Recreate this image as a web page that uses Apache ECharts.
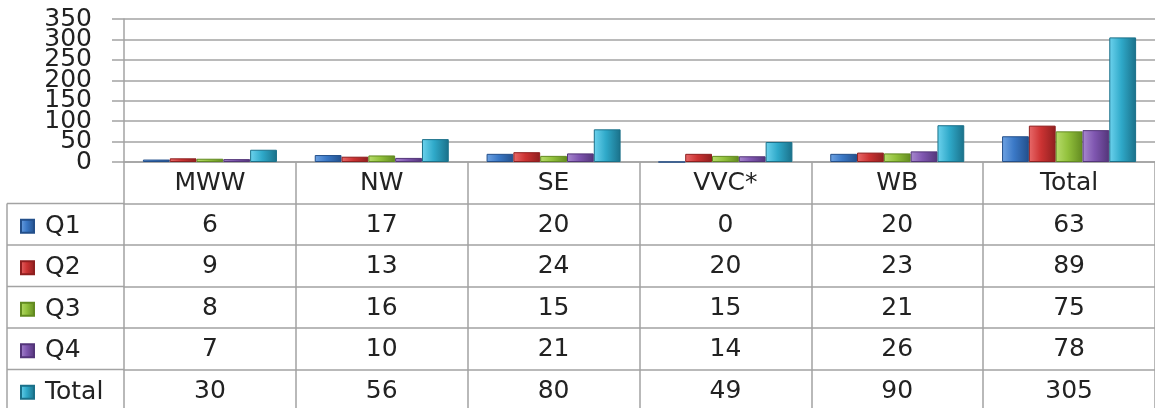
<!DOCTYPE html>
<html>
<head>
<meta charset="utf-8">
<script src="https://cdn.jsdelivr.net/npm/echarts@6/dist/echarts.min.js"></script>
<style>
  html, body { margin: 0; padding: 0; background: #fff; }
  #chart { width: 1155px; height: 408px; }
</style>
</head>
<body>
<div id="chart"></div>
<script>
var categories = ["MWW", "NW", "SE", "VVC*", "WB", "Total"];
var seriesNames = ["Q1", "Q2", "Q3", "Q4", "Total"];
var q1 = [6, 17, 20, 0, 20, 63];
var q2 = [9, 13, 24, 20, 23, 89];
var q3 = [8, 16, 15, 15, 21, 75];
var q4 = [7, 10, 21, 14, 26, 78];
var total = [30, 56, 80, 49, 90, 305];
var yTicks = [0, 50, 100, 150, 200, 250, 300, 350];

var rows = [q1, q2, q3, q4, total];
var colors = [
  ["#6fa3e3", "#3a78c6", "#234f8a"],
  ["#e86a6a", "#cc3333", "#8e1f1f"],
  ["#b8dc6c", "#92c13c", "#628a20"],
  ["#a889cf", "#7f56b0", "#533579"],
  ["#6dd3ee", "#2fa9c9", "#1a7089"]
];

var FONT = "DejaVu Sans";
var FS = 25;
var LINE = "#a3a3a3";
var GRID_LEFT = 124, GRID_TOP = 19, AXIS_Y = 162;
var ROW_H = 41.5;
var TABLE_LEFT = 7;

var chart = echarts.init(document.getElementById("chart"));

function grad(c) {
  return new echarts.graphic.LinearGradient(0, 0, 1, 0, [
    { offset: 0, color: c[0] },
    { offset: 0.45, color: c[1] },
    { offset: 1, color: c[2] }
  ]);
}

function rowAxis(data, offset) {
  return {
    type: "category",
    data: data,
    position: "bottom",
    offset: offset,
    axisLine: { show: true, onZero: false, lineStyle: { color: LINE, width: 1.5 } },
    axisTick: { show: true, length: ROW_H, interval: 0, lineStyle: { color: LINE, width: 1.5 } },
    axisLabel: {
      interval: 0, margin: ROW_H / 2 + 1, verticalAlign: "middle",
      fontFamily: FONT, fontSize: FS, color: "#222"
    }
  };
}

// header axis + one axis per table row
var xAxes = [rowAxis(categories, 0)];
rows.forEach(function (r, i) {
  xAxes.push(rowAxis(r.map(String), ROW_H * (i + 1)));
});

// the y labels sit closer than their height, so split them over two
// identical axes (even / odd ticks) to stop overlap hiding
function yAxisHalf(parity, main) {
  return {
    type: "value",
    position: "left",
    offset: 0,
    min: 0,
    max: 350,
    interval: 50,
    axisLine: { show: main, onZero: false, lineStyle: { color: LINE, width: 1.5 } },
    axisTick: { show: main, length: 12, lineStyle: { color: LINE, width: 1.5 } },
    axisLabel: {
      margin: 32, fontFamily: FONT, fontSize: FS, color: "#222",
      showMinLabel: true, showMaxLabel: true,
      verticalAlignMinLabel: "middle", verticalAlignMaxLabel: "middle",
      formatter: function (v) {
        var i = yTicks.indexOf(v);
        return i >= 0 && i % 2 === parity ? String(v) : "";
      }
    },
    splitLine: { show: main, lineStyle: { color: LINE, width: 1.5 } }
  };
}

var series = seriesNames.map(function (name, i) {
  return {
    name: name,
    type: "bar",
    xAxisIndex: 0,
    yAxisIndex: 0,
    data: rows[i],
    barGap: "0%",
    barCategoryGap: "22%",
    itemStyle: { color: grad(colors[i]), borderColor: colors[i][2], borderWidth: 1 }
  };
});

// left part of the table (legend column borders)
var leftLines = [];
for (var k = 1; k <= 5; k++) {
  leftLines.push({
    type: "line",
    shape: { x1: TABLE_LEFT, y1: AXIS_Y + ROW_H * k, x2: GRID_LEFT, y2: AXIS_Y + ROW_H * k },
    style: { stroke: LINE, lineWidth: 1.5 }
  });
}
leftLines.push({
  type: "line",
  shape: { x1: TABLE_LEFT, y1: AXIS_Y + ROW_H, x2: TABLE_LEFT, y2: 420 },
  style: { stroke: LINE, lineWidth: 1.5 }
});

chart.setOption({
  animation: false,
  grid: { left: GRID_LEFT, right: -3, top: GRID_TOP, bottom: 408 - AXIS_Y },
  legend: {
    orient: "vertical",
    left: 20,
    top: AXIS_Y + ROW_H * 1.5 - 11,
    height: 300,
    padding: 0,
    itemWidth: 13,
    itemHeight: 13,
    itemGap: ROW_H - 26,
    icon: "rect",
    data: seriesNames,
    textStyle: { fontFamily: FONT, fontSize: FS, color: "#222", lineHeight: 26, padding: [0, 0, 0, 6] }
  },
  xAxis: xAxes,
  yAxis: [yAxisHalf(0, true), yAxisHalf(1, false)],
  graphic: leftLines,
  series: series
});
</script>
</body>
</html>
